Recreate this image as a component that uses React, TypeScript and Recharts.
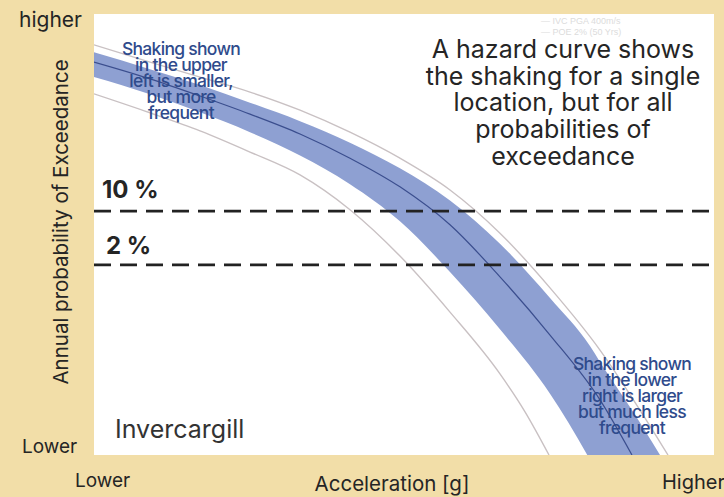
import React from "react";
import {
  ComposedChart,
  Area,
  Line,
  XAxis,
  YAxis,
  CartesianGrid,
  ReferenceLine,
} from "recharts";

// Arbitrary units: acceleration 0..10 (left to right), log-probability 0..10 (bottom to top)
const bandX = [0, 0.903, 1.71, 2.516, 3.323, 4.129, 4.935, 5.742, 6.548, 7.355, 8.0, 8.161, 8.677, 9.129];
const bandHigh = [9.13, 8.75, 8.39, 7.99, 7.57, 7.08, 6.5, 5.77, 4.79, 3.56, 2.47, 2.11, 1.02, 0];
const bandLow = [8.57, 8.18, 7.77, 7.32, 6.79, 6.14, 5.3, 4.15, 2.85, 1.39, -0.11, -0.52, -1.81, -2.95];

const midX = [0, 0.903, 1.71, 2.516, 3.323, 4.129, 4.935, 5.742, 6.548, 7.355, 8.161, 8.677];
const midY = [8.91, 8.53, 8.14, 7.73, 7.28, 6.73, 6.08, 5.22, 4.04, 2.72, 1.25, 0];

const upperGrayX = [0, 0.903, 1.71, 2.516, 3.323, 4.129, 4.935, 5.742, 6.548, 7.355, 8.161, 8.806, 9.258];
const upperGrayY = [9.3, 8.91, 8.57, 8.23, 7.82, 7.32, 6.73, 6.01, 5.03, 3.79, 2.38, 1.02, 0];

const lowerGrayX = [0, 0.903, 1.71, 2.516, 3.323, 4.129, 4.935, 5.742, 6.548, 6.952, 7.339];
const lowerGrayY = [8.19, 7.76, 7.35, 6.87, 6.35, 5.56, 4.51, 3.24, 1.84, 0.98, 0];

const poeLevels = [
  { label: "10 %", value: 5.53 },
  { label: "2 %", value: 4.31 },
];

const gridXTicks = [1.06, 1.76, 2.71, 4.45, 6.06, 7.19, 8.48];
const gridYTicks = [9.6, 8.0, 7.1, 6.2, 4.9, 3.5, 2.0, 1.0];

const bigText = [
  "A hazard curve shows",
  "the shaking for a single",
  "location, but for all",
  "probabilities of",
  "exceedance",
];
const upperNote = ["Shaking shown", "in the upper", "left is smaller,", "but more", "frequent"];
const lowerNote = ["Shaking shown", "in the lower", "right is larger", "but much less", "frequent"];

type Row = { x: number; band?: [number, number]; mid?: number; up?: number; lo?: number };

function buildRows(): Row[] {
  const map = new Map<number, Row>();
  const get = (x: number) => {
    if (!map.has(x)) map.set(x, { x });
    return map.get(x)!;
  };
  bandX.forEach((x, i) => (get(x).band = [bandLow[i], bandHigh[i]]));
  midX.forEach((x, i) => (get(x).mid = midY[i]));
  upperGrayX.forEach((x, i) => (get(x).up = upperGrayY[i]));
  lowerGrayX.forEach((x, i) => (get(x).lo = lowerGrayY[i]));
  return Array.from(map.values()).sort((a, b) => a.x - b.x);
}

const rows = buildRows();

const FONT = "Inter, 'Noto Sans', sans-serif";
const DARK = "#252525";
const BLUE_TEXT = "#2f4b8c";

const abs = (style: React.CSSProperties): React.CSSProperties => ({
  position: "absolute",
  margin: 0,
  whiteSpace: "nowrap",
  fontFamily: FONT,
  color: DARK,
  lineHeight: 1,
  ...style,
});

function Lines({
  lines,
  cx,
  firstCenter,
  step,
  style,
}: {
  lines: string[];
  cx: number;
  firstCenter: number;
  step: number;
  style: React.CSSProperties;
}) {
  return (
    <>
      {lines.map((t, i) => (
        <div
          key={i}
          style={abs({
            left: cx,
            top: firstCenter + i * step,
            transform: "translate(-50%, -50%)",
            ...style,
          })}
        >
          {t}
        </div>
      ))}
    </>
  );
}

export default function App() {
  return (
    <div
      style={{
        position: "absolute",
        left: 0,
        top: 0,
        width: 724,
        height: 497,
        background: "#F2DEA8",
        overflow: "hidden",
      }}
    >
      <ComposedChart
        width={724}
        height={497}
        data={rows}
        margin={{ top: 14, right: 10, bottom: 42, left: 94 }}
      >
        <CartesianGrid
          fill="#ffffff"
          fillOpacity={1}
          stroke="#eeeeee"
          strokeWidth={1}
          horizontalValues={gridYTicks}
          verticalValues={gridXTicks}
        />
        <XAxis
          type="number"
          dataKey="x"
          domain={[0, 10]}
          allowDataOverflow
          height={0}
          tick={false}
          tickLine={false}
          axisLine={{ stroke: "#222", strokeWidth: 2.5 }}
        />
        <YAxis
          type="number"
          domain={[0, 10]}
          allowDataOverflow
          width={0}
          tick={false}
          tickLine={false}
          axisLine={{ stroke: "#222", strokeWidth: 2.5 }}
        />
        <Area
          dataKey="band"
          type="monotone"
          connectNulls
          stroke="none"
          fill="#8EA0D2"
          fillOpacity={1}
          isAnimationActive={false}
          activeDot={false}
        />
        <Line
          dataKey="up"
          type="monotone"
          connectNulls
          stroke="#c9c1c3"
          strokeWidth={1.4}
          dot={false}
          activeDot={false}
          isAnimationActive={false}
        />
        <Line
          dataKey="lo"
          type="monotone"
          connectNulls
          stroke="#c9c1c3"
          strokeWidth={1.4}
          dot={false}
          activeDot={false}
          isAnimationActive={false}
        />
        <Line
          dataKey="mid"
          type="monotone"
          connectNulls
          stroke="#3b4e8e"
          strokeWidth={1.2}
          dot={false}
          activeDot={false}
          isAnimationActive={false}
        />
        {poeLevels.map((p) => (
          <ReferenceLine
            key={p.label}
            y={p.value}
            stroke="#222"
            strokeWidth={2.8}
            strokeDasharray="17 9"
            ifOverflow="extendDomain"
          />
        ))}
      </ComposedChart>

      {/* faint legend remnants */}
      <div style={abs({ left: 541, top: 17, fontSize: 9, lineHeight: "9px", color: "#dcdcdc", fontFamily: "Arial, sans-serif" })}>
        — IVC PGA 400m/s
      </div>
      <div style={abs({ left: 541, top: 28, fontSize: 9, lineHeight: "9px", color: "#dcdcdc", fontFamily: "Arial, sans-serif" })}>
        — POE 2% (50 Yrs)
      </div>

      {/* PoE labels */}
      <div style={abs({ left: 102, top: 178, fontSize: 24, fontWeight: 700 })}>{poeLevels[0].label}</div>
      <div style={abs({ left: 106, top: 234, fontSize: 24, fontWeight: 700 })}>{poeLevels[1].label}</div>

      {/* Big explanatory text */}
      <Lines
        lines={bigText}
        cx={563}
        firstCenter={49}
        step={26.7}
        style={{ fontSize: 25, lineHeight: "22px" }}
      />

      {/* Blue annotations */}
      <Lines
        lines={upperNote}
        cx={181}
        firstCenter={48}
        step={16}
        style={{ fontSize: 17.5, lineHeight: "15px", fontWeight: 500, letterSpacing: -0.7, color: BLUE_TEXT }}
      />
      <Lines
        lines={lowerNote}
        cx={632}
        firstCenter={363}
        step={16}
        style={{ fontSize: 17.5, lineHeight: "15px", fontWeight: 500, letterSpacing: -0.7, color: BLUE_TEXT }}
      />

      <div style={abs({ left: 115, top: 417, fontSize: 25, color: "#333" })}>Invercargill</div>

      {/* Axis words */}
      <div style={abs({ left: 19, top: 9, fontSize: 21 })}>higher</div>
      <div style={abs({ left: 22, top: 437, fontSize: 19 })}>Lower</div>
      <div style={abs({ left: 75, top: 471, fontSize: 19 })}>Lower</div>
      <div style={abs({ left: 392, top: 484, fontSize: 20.5, transform: "translate(-50%, -50%)" })}>
        Acceleration [g]
      </div>
      <div style={abs({ left: 662, top: 472, fontSize: 20 })}>Higher</div>
      <div
        style={abs({
          left: 61,
          top: 222,
          fontSize: 20.5,
          transform: "translate(-50%, -50%) rotate(-90deg)",
        })}
      >
        Annual probability of Exceedance
      </div>
    </div>
  );
}
